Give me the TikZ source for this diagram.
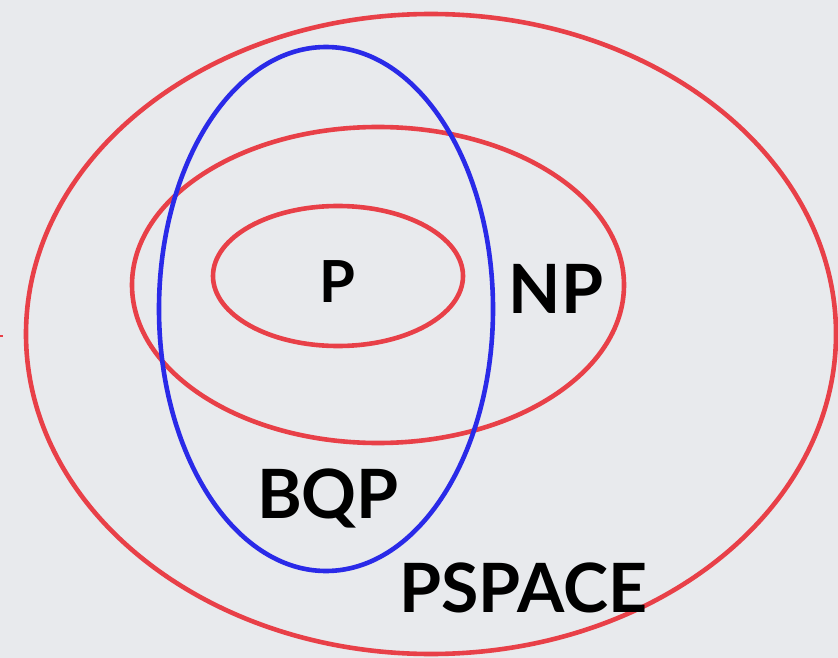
\documentclass[tikz,border=0pt]{standalone}
\usepackage{fontspec}
\setmainfont{Lato}
\definecolor{bg}{RGB}{232,234,237}
\definecolor{cred}{RGB}{232,64,72}
\definecolor{cblue}{RGB}{42,42,232}
\tikzset{
  redset/.style={draw=cred, line width=4.6pt},
  blueset/.style={draw=cblue, line width=4.6pt},
  setlabel/.style={font=\fontsize{68}{72}\selectfont\bfseries, text=black, inner sep=0pt, anchor=base}
}
\begin{document}
\begin{tikzpicture}[x=1pt,y=-1pt]
\fill[bg] (0,0) rectangle (838,658);
\useasboundingbox (0,0) rectangle (838,658);
\draw[redset] (431,334) ellipse [x radius=405, y radius=320];
\draw[redset] (378,285) ellipse [x radius=246, y radius=158];
\draw[redset] (338,276) ellipse [x radius=125, y radius=70];
\draw[blueset] (326,309) ellipse [x radius=167, y radius=262];
\draw[cred, line width=1.5pt] (0,336) -- (3,336);
\node[setlabel, font=\fontsize{58}{62}\selectfont\bfseries] (p) at (337,302) {P};
\node[setlabel] (np) at (556,313) {NP};
\node[setlabel] (bqp) at (328,518) {BQP};
\node[setlabel] (pspace) at (523,612) {PSPACE};
\end{tikzpicture}
\end{document}
